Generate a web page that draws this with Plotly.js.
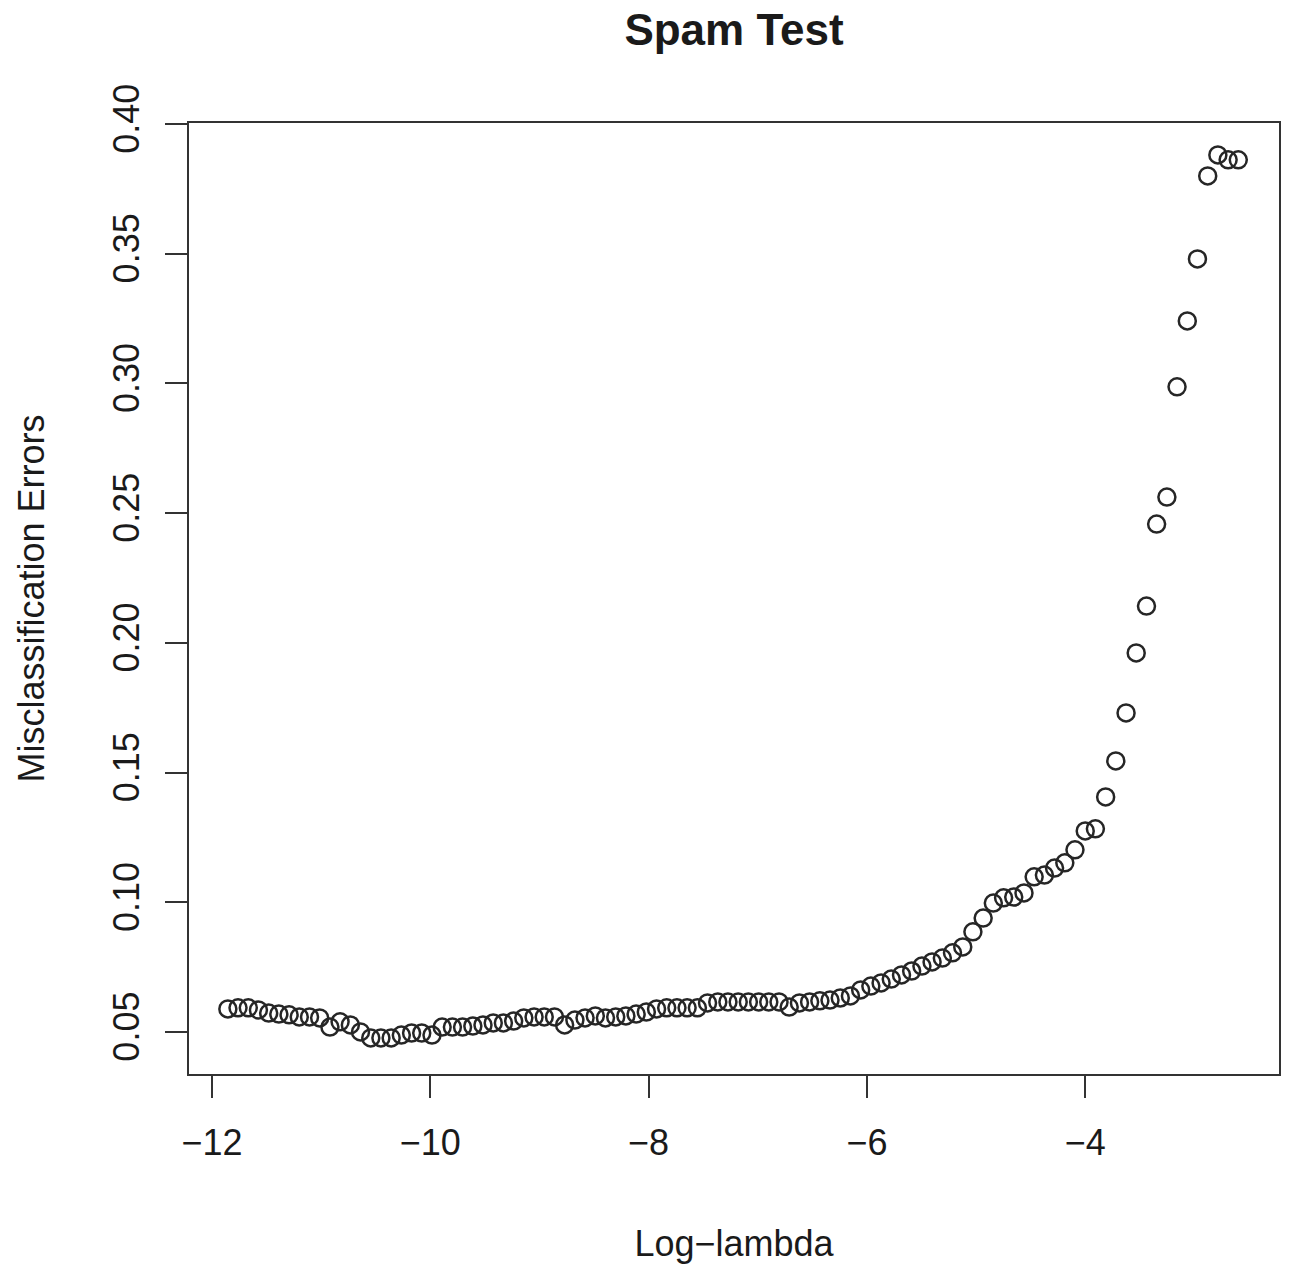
<!DOCTYPE html>
<html>
<head>
<meta charset="utf-8">
<script src="https://cdn.plot.ly/plotly-3.0.1.min.js"></script>
<style>html,body{margin:0;padding:0;background:#fff;}#chart{width:1289px;height:1264px;}</style>
</head>
<body>
<div id="chart"></div>
<script>
const logLambda = [
  -11.854, -11.761, -11.667, -11.574, -11.480, -11.387, -11.293, -11.200, -11.106, -11.013,
  -10.919, -10.826, -10.732, -10.639, -10.545, -10.452, -10.358, -10.265, -10.171, -10.078,
  -9.984, -9.891, -9.797, -9.704, -9.610, -9.517, -9.423, -9.330, -9.236, -9.143,
  -9.049, -8.956, -8.862, -8.769, -8.675, -8.582, -8.488, -8.395, -8.301, -8.208,
  -8.114, -8.021, -7.927, -7.834, -7.740, -7.647, -7.553, -7.460, -7.366, -7.273,
  -7.179, -7.086, -6.992, -6.899, -6.805, -6.712, -6.618, -6.525, -6.431, -6.338,
  -6.244, -6.151, -6.057, -5.964, -5.870, -5.777, -5.683, -5.590, -5.496, -5.403,
  -5.309, -5.216, -5.122, -5.029, -4.935, -4.842, -4.748, -4.655, -4.561, -4.468,
  -4.374, -4.281, -4.187, -4.094, -4.000, -3.907, -3.813, -3.720, -3.626, -3.533,
  -3.439, -3.346, -3.252, -3.159, -3.065, -2.972, -2.878, -2.785, -2.691, -2.598
];
const misclassErrors = [
  0.0589, 0.0593, 0.0593, 0.0585, 0.0573, 0.0569, 0.0566, 0.0558, 0.0558, 0.0554,
  0.0519, 0.0539, 0.0527, 0.0500, 0.0477, 0.0477, 0.0477, 0.0488, 0.0496, 0.0496,
  0.0488, 0.0519, 0.0519, 0.0519, 0.0523, 0.0527, 0.0535, 0.0535, 0.0542, 0.0554,
  0.0558, 0.0558, 0.0558, 0.0527, 0.0546, 0.0554, 0.0562, 0.0554, 0.0558, 0.0562,
  0.0569, 0.0577, 0.0589, 0.0593, 0.0593, 0.0593, 0.0593, 0.0612, 0.0616, 0.0616,
  0.0616, 0.0616, 0.0616, 0.0616, 0.0616, 0.0596, 0.0612, 0.0616, 0.0620, 0.0623,
  0.0631, 0.0639, 0.0662, 0.0677, 0.0689, 0.0704, 0.0720, 0.0735, 0.0754, 0.0770,
  0.0785, 0.0805, 0.0828, 0.0886, 0.0939, 0.0997, 0.1017, 0.1020, 0.1036, 0.1098,
  0.1105, 0.1132, 0.1152, 0.1202, 0.1275, 0.1283, 0.1406, 0.1545, 0.1730, 0.1961,
  0.2142, 0.2458, 0.2562, 0.2987, 0.3241, 0.3480, 0.3800, 0.3881, 0.3862, 0.3862
];
const xTickVals = [-12, -10, -8, -6, -4];
const xTickText = ["\u221212", "\u221210", "\u22128", "\u22126", "\u22124"];
const yTickVals = [0.05, 0.10, 0.15, 0.20, 0.25, 0.30, 0.35, 0.40];
const yTickText = ["0.05", "0.10", "0.15", "0.20", "0.25", "0.30", "0.35", "0.40"];
const chartTitle = "Spam Test";
const xTitle = "Log\u2212lambda";
const yTitle = "Misclassification Errors";

const FONT = "'Liberation Sans', Arial, Helvetica, sans-serif";
const INK = "#1a1a1a";

const trace = {
  x: logLambda,
  y: misclassErrors,
  type: "scatter",
  mode: "markers",
  marker: {symbol: "circle-open", size: 17, color: "#262626", line: {width: 2.5, color: "#262626"}},
  hoverinfo: "x+y"
};

const layout = {
  width: 1289,
  height: 1264,
  paper_bgcolor: "#ffffff",
  plot_bgcolor: "#ffffff",
  margin: {l: 189, r: 10, t: 123, b: 190},
  showlegend: false,
  font: {family: FONT, color: INK, size: 36},
  title: {
    text: "<b>" + chartTitle + "</b>",
    font: {family: FONT, size: 44, color: INK},
    x: 0.5, xanchor: "center", xref: "paper",
    y: 1 - 30 / 1264, yanchor: "middle", yref: "container"
  },
  xaxis: {
    range: [-12.21, -2.225],
    tickmode: "array", tickvals: xTickVals, ticktext: xTickText,
    ticks: "outside", ticklen: 22, tickwidth: 2, tickcolor: "#333",
    ticklabelstandoff: 14,
    showgrid: false, zeroline: false,
    showline: true, mirror: true, linecolor: "#333", linewidth: 2,
    tickfont: {family: FONT, size: 36, color: INK},
    title: {text: xTitle, font: {family: FONT, size: 36, color: INK}, standoff: 80},
    automargin: false
  },
  yaxis: {
    range: [0.0338, 0.4004],
    tickmode: "array", tickvals: yTickVals, ticktext: yTickText,
    tickangle: -90,
    ticks: "outside", ticklen: 22, tickwidth: 2, tickcolor: "#333",
    ticklabelstandoff: 12,
    showgrid: false, zeroline: false,
    showline: true, mirror: true, linecolor: "#333", linewidth: 2,
    tickfont: {family: FONT, size: 36, color: INK},
    title: {text: yTitle, font: {family: FONT, size: 36, color: INK}, standoff: 50},
    automargin: false
  }
};

Plotly.newPlot("chart", [trace], layout, {displayModeBar: false, staticPlot: true});
</script>
</body>
</html>
